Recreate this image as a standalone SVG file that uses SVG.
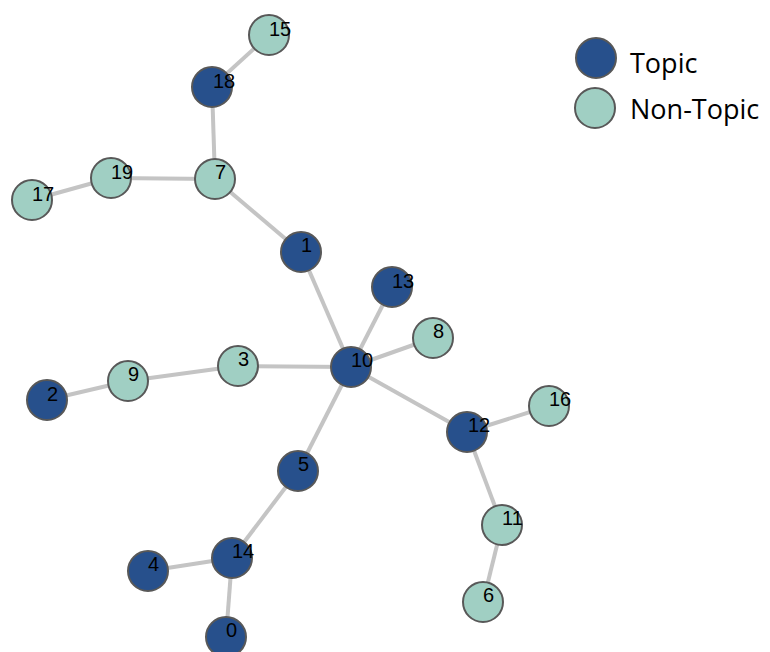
<svg xmlns="http://www.w3.org/2000/svg" width="770" height="652" viewBox="0 0 770 652">
<style>
.edge{stroke:#c4c4c4;stroke-width:4;fill:none}
.topic{fill:#27508c;stroke:#585858;stroke-width:2}
.non{fill:#a0cfc3;stroke:#585858;stroke-width:2}
.lbl{font-family:"Liberation Sans",Arial,sans-serif;font-size:20px;fill:#000}
.leg{font-family:"Open Sans","Liberation Sans",sans-serif;font-size:27px;fill:#000}
</style>
<rect width="770" height="652" fill="#fff"/>
<g id="edges">
<line class="edge" x1="269" y1="35" x2="212" y2="87"/>
<line class="edge" x1="212" y1="87" x2="215" y2="179"/>
<line class="edge" x1="215" y1="179" x2="111" y2="178"/>
<line class="edge" x1="111" y1="178" x2="32" y2="200"/>
<line class="edge" x1="215" y1="179" x2="301" y2="252"/>
<line class="edge" x1="301" y1="252" x2="351" y2="367"/>
<line class="edge" x1="392" y1="287" x2="351" y2="367"/>
<line class="edge" x1="433" y1="338" x2="351" y2="367"/>
<line class="edge" x1="238" y1="366" x2="351" y2="367"/>
<line class="edge" x1="238" y1="366" x2="128" y2="381"/>
<line class="edge" x1="128" y1="381" x2="47" y2="400"/>
<line class="edge" x1="351" y1="367" x2="467" y2="432"/>
<line class="edge" x1="467" y1="432" x2="549" y2="406"/>
<line class="edge" x1="467" y1="432" x2="502" y2="525"/>
<line class="edge" x1="502" y1="525" x2="483" y2="602"/>
<line class="edge" x1="351" y1="367" x2="298" y2="471"/>
<line class="edge" x1="298" y1="471" x2="232" y2="558"/>
<line class="edge" x1="232" y1="558" x2="148" y2="571"/>
<line class="edge" x1="232" y1="558" x2="226" y2="637"/>
</g>
<g id="n15"><circle class="non" cx="269" cy="35" r="20"/><text class="lbl" x="269" y="36">15</text></g>
<g id="n18"><circle class="topic" cx="212" cy="87" r="20"/><text class="lbl" x="213" y="88">18</text></g>
<g id="n7"><circle class="non" cx="215" cy="179" r="20"/><text class="lbl" x="215" y="179">7</text></g>
<g id="n19"><circle class="non" cx="111" cy="178" r="20"/><text class="lbl" x="111" y="179">19</text></g>
<g id="n17"><circle class="non" cx="32" cy="200" r="20"/><text class="lbl" x="32" y="201">17</text></g>
<g id="n1"><circle class="topic" cx="301" cy="252" r="20"/><text class="lbl" x="301" y="252">1</text></g>
<g id="n13"><circle class="topic" cx="392" cy="287" r="20"/><text class="lbl" x="392" y="288">13</text></g>
<g id="n8"><circle class="non" cx="433" cy="338" r="20"/><text class="lbl" x="433" y="338">8</text></g>
<g id="n10"><circle class="topic" cx="351" cy="367" r="20"/><text class="lbl" x="351" y="367">10</text></g>
<g id="n3"><circle class="non" cx="238" cy="366" r="20"/><text class="lbl" x="238" y="366">3</text></g>
<g id="n9"><circle class="non" cx="128" cy="381" r="20"/><text class="lbl" x="128" y="381">9</text></g>
<g id="n2"><circle class="topic" cx="47" cy="400" r="20"/><text class="lbl" x="47" y="401">2</text></g>
<g id="n12"><circle class="topic" cx="467" cy="432" r="20"/><text class="lbl" x="468" y="432">12</text></g>
<g id="n16"><circle class="non" cx="549" cy="406" r="20"/><text class="lbl" x="549" y="406">16</text></g>
<g id="n11"><circle class="non" cx="502" cy="525" r="20"/><text class="lbl" x="502" y="525">11</text></g>
<g id="n6"><circle class="non" cx="483" cy="602" r="20"/><text class="lbl" x="483" y="602">6</text></g>
<g id="n5"><circle class="topic" cx="298" cy="471" r="20"/><text class="lbl" x="298" y="471">5</text></g>
<g id="n14"><circle class="topic" cx="232" cy="558" r="20"/><text class="lbl" x="232" y="558">14</text></g>
<g id="n4"><circle class="topic" cx="148" cy="571" r="20"/><text class="lbl" x="148" y="571">4</text></g>
<g id="n0"><circle class="topic" cx="226" cy="637" r="20"/><text class="lbl" x="226" y="637">0</text></g>
<g id="legend">
<circle class="topic" cx="596" cy="58" r="20"/>
<text class="leg" x="630" y="73">Topic</text>
<circle class="non" cx="595" cy="108" r="20"/>
<text class="leg" x="630" y="119">Non-Topic</text>
</g>
</svg>
